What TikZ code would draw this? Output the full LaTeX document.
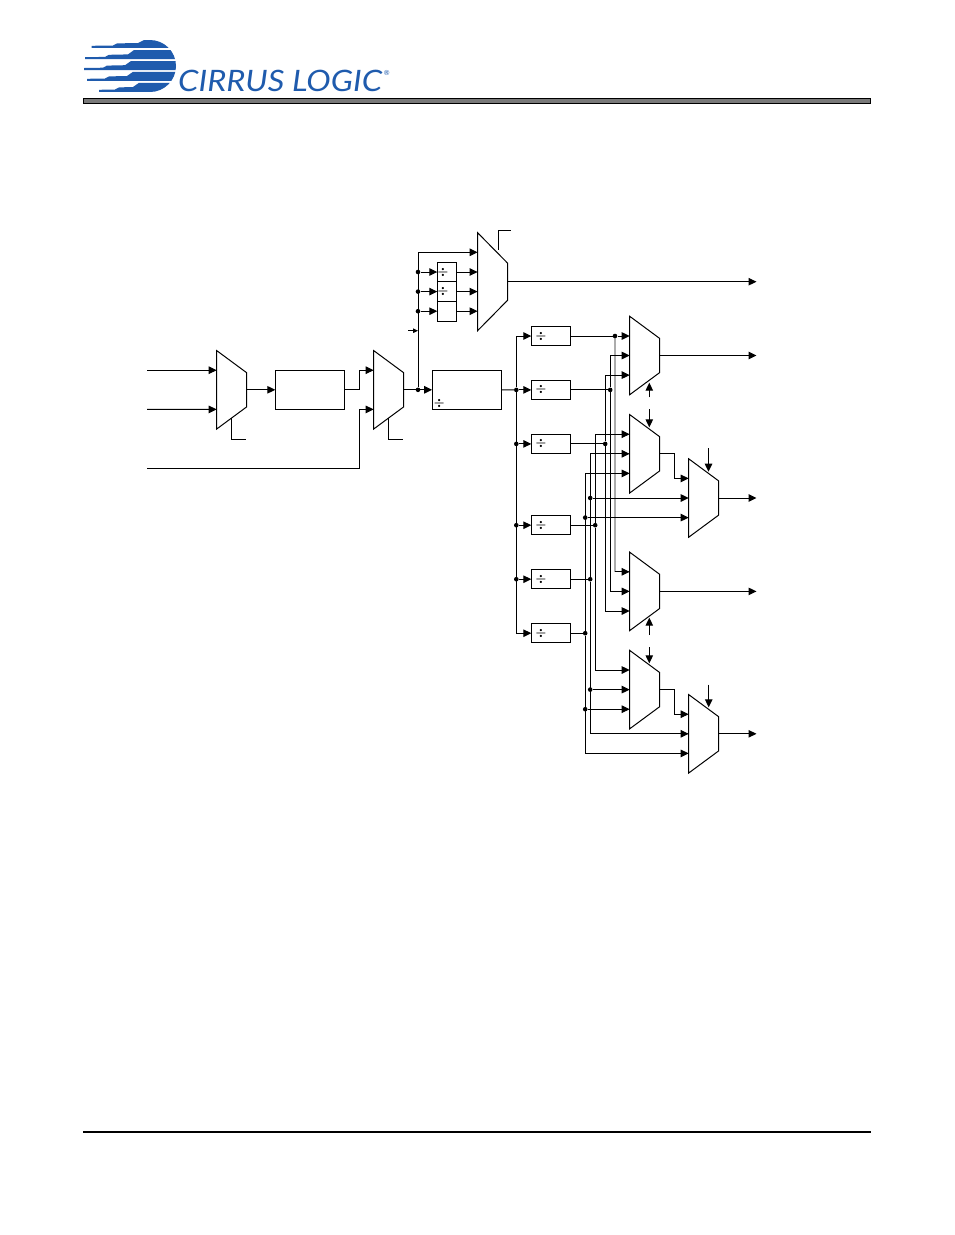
\documentclass[tikz,border=0pt]{standalone}
\usepackage{fontspec}
\setsansfont{Lato}
\usetikzlibrary{arrows.meta,shapes.geometric}
\definecolor{logoblue}{HTML}{1F5BAD}
\tikzset{
    wire/.style={line width=1pt},
    greywire/.style={line width=1.7pt,gray!65},
    arr/.style={wire,-{Triangle[length=8pt,width=7.5pt]}},
    arrsmall/.style={wire,-{Triangle[length=5pt,width=4.5pt]}},
    dot/.style={circle,fill=black,inner sep=0pt,minimum size=4.6pt},
    divmark/.style={inner sep=0pt,font=\fontsize{12}{12}\selectfont\boldmath},
    box/.style={draw,wire,inner sep=0pt,outer sep=0pt,minimum width=69.4pt,minimum height=39pt},
    divbox/.style={draw,wire,inner sep=0pt,outer sep=0pt,minimum width=39.4pt,minimum height=19.4pt,
        label={[xshift=-10pt,divmark]center:$\div$}},
    smallbox/.style={draw,wire,inner sep=0pt,outer sep=0pt,minimum width=19.4pt,minimum height=19.6pt},
    mux/.style={draw,wire,trapezium,shape border rotate=270,trapezium stretches=true,
        trapezium left angle=57,trapezium right angle=57,inner sep=1pt,outer sep=0pt,
        minimum height=30pt,minimum width=78.4pt},
}
\begin{document}
\begin{tikzpicture}[x=1pt,y=-1pt]
    \useasboundingbox (0,0) rectangle (954,1235);
    % logo
    \begin{scope}
        \clip (80,38) -- (150,38) -- (150,40) arc[start angle=90,end angle=-90,radius=26pt] -- (150,94) -- (80,94) -- cycle;
        \foreach \top/\bot/\tail/\mid/\full in {40/47.8/91.5/113/138,50/59.2/85/105/128,61/70/84/103/125,71.8/80.8/87/105/127,82.8/91.8/99/115/133}{
            \fill[logoblue] (\tail,\bot) -- (\tail,\bot-2) -- (\mid,\bot-2.3) -- (\mid+4,\bot-4.4) -- (\full,\bot-4.8)
                -- (\full+6,\top) -- (180,\top) -- (180,\bot) -- cycle;
        }
    \end{scope}
    \node[text=logoblue,inner sep=0pt,anchor=base west,xscale=1.108,transform shape,font=\sffamily\itshape\fontsize{29.5}{30}\selectfont] (logotext) at (178,91) {CIRRUS LOGIC};
    \node[text=logoblue,inner sep=0pt,font=\sffamily\fontsize{7}{7}\selectfont] (logoreg) at (386.8,73) {\textregistered};
    \draw[line width=1.3pt,fill=gray!95!black] (83.5,98.6) rectangle (870.5,103.6);
    \coordinate (footl) at (83,1132);
    \coordinate (footr) at (871,1132);
    \draw[line width=1.8pt] (footl) -- (footr);

    % nodes
    \node[mux] (muxi) at (231.7,389.8) {};
    \node[mux] (muxp) at (388.7,389.8) {};
    \node[mux] (muxa) at (644.7,355.5) {};
    \node[mux] (muxb) at (644.7,453.8) {};
    \node[mux] (muxc) at (644.7,591.4) {};
    \node[mux] (muxd) at (644.7,689.6) {};
    \node[mux] (muxe) at (703.7,498) {};
    \node[mux] (muxf) at (703.7,733.8) {};
    \node[mux,minimum width=98pt,trapezium left angle=50.6,trapezium right angle=50.6] (muxt) at (492.6,281.7) {};
    \node[box] (pll) at (310,389.8) {};
    \node[box] (fdiv) at (466.8,389.8) {};
    \node[divmark] (fdivmark) at (439.3,403.3) {$\div$};
    \foreach \n/\y in {a/336,b/389.9,c/443.9,d/525.2,e/579.2,f/633.2}{
        \node[divbox] (div\n) at (551,\y) {};
    }
    \node[smallbox,label={[xshift=-4pt,divmark]center:$\div$}] (rdiva) at (447,272) {};
    \node[smallbox,label={[xshift=-4pt,divmark]center:$\div$}] (rdivb) at (447,291.6) {};
    \node[smallbox] (rdivc) at (447,311.2) {};

    % input positions of the muxes
    \foreach \m in {muxi,muxp,muxa,muxb,muxc,muxd,muxe,muxf}{
        \coordinate (\m-1) at ([yshift=19.6pt]\m.west);
        \coordinate (\m-3) at ([yshift=-19.6pt]\m.west);
    }
    \coordinate (muxt-1) at ([yshift=29.4pt]muxt.west);

    % left part
    \coordinate (ina) at (147,370.2);
    \coordinate (inb) at (147,409.4);
    \coordinate (inc) at (147,468);
    \coordinate (xmux) at (359.7,0);
    \coordinate (seli) at (246,439.3);
    \coordinate (selp) at (403,439.3);
    \draw[arr] (ina) -- (muxi-1);
    \draw[arr] (inb) -- (muxi-3);
    \draw[wire] (muxi.south) |- (seli);
    \draw[wire] (muxp.south) |- (selp);
    \draw[arr] (muxi.east) -- (pll.west);
    \draw[arr] (pll.east) -- (pll.east -| xmux) -- (xmux |- muxp-1) -- (muxp-1);
    \draw[arr] (inc) -- (inc -| xmux) -- (xmux |- muxp-3) -- (muxp-3);
    \node[dot] (jclk) at (418,389.8) {};
    \draw[arr] (muxp.east) -- (fdiv.west);

    % top mux
    \draw[arr] (jclk) |- (muxt-1);
    \node[dot] (jra) at (rdiva.west -| jclk) {};
    \node[dot] (jrb) at (rdivb.west -| jclk) {};
    \node[dot] (jrc) at (rdivc.west -| jclk) {};
    \draw[arr] (jra) -- (rdiva.west);
    \draw[arr] (jrb) -- (rdivb.west);
    \draw[arr] (jrc) -- (rdivc.west);
    \draw[arr] (rdiva.east) -- (rdiva.east -| muxt.west);
    \draw[arr] (rdivb.east) -- (rdivb.east -| muxt.west);
    \draw[arr] (rdivc.east) -- (rdivc.east -| muxt.west);
    \coordinate (clkin) at (408,330.7);
    \draw[arrsmall] (clkin) -- (clkin -| jclk);
    \coordinate (selta) at (498.3,249.6);
    \coordinate (seltb) at (511,230);
    \draw[wire] (selta) |- (seltb);
    \coordinate (xout) at (756.5,0);
    \draw[arr] (muxt.east) -- (muxt.east -| xout);

    % divider bus
    \coordinate (xbus) at (516.3,0);
    \node[dot] (jb) at (divb.west -| xbus) {};
    \node[dot] (jc) at (divc.west -| xbus) {};
    \node[dot] (jd) at (divd.west -| xbus) {};
    \node[dot] (je) at (dive.west -| xbus) {};
    \draw[wire] (fdiv.east) -- (jb);
    \draw[arr] (jb) |- (diva.west);
    \draw[arr] (jb) |- (divf.west);
    \foreach \n in {b,c,d,e}{
        \draw[arr] (j\n) -- (div\n.west);
    }

    % buses from the dividers to the muxes
    \coordinate (xbua) at (615,0);
    \coordinate (bend) at (xbua |- muxc-1);
    \draw[greywire] (diva.east -| xbua) -- (bend);
    \foreach \n/\x in {a/615,b/610.2,c/605.2,d/595.2,e/590.2,f/585.2}{
        \coordinate (xbu\n) at (\x,0);
        \node[dot] (bu\n) at (div\n.east -| xbu\n) {};
        \draw[wire] (div\n.east) -- (bu\n);
    }
    \draw[arr] (bua) -- (bua -| muxa.west);
    \draw[arr] (bend) -- (muxc-1);
    \draw[arr] (bub) |- (muxa.west);
    \draw[arr] (bub) |- (muxc.west);
    \draw[arr] (buc) |- (muxa-3);
    \draw[arr] (buc) |- (muxc-3);
    \draw[arr] (bud) |- (muxb-1);
    \draw[arr] (bud) |- (muxd-1);
    \draw[arr] (bue) |- (muxb.west);
    \draw[arr] (bue) |- (muxf.west);
    \draw[arr] (buf) |- (muxb-3);
    \draw[arr] (buf) |- (muxf-3);
    \node[dot] (tee) at (muxe.west -| bue) {};
    \node[dot] (tef) at (muxe-3 -| buf) {};
    \node[dot] (tde) at (muxd.west -| bue) {};
    \node[dot] (tdf) at (muxd-3 -| buf) {};
    \draw[arr] (tee) -- (muxe.west);
    \draw[arr] (tef) -- (muxe-3);
    \draw[arr] (tde) -- (muxd.west);
    \draw[arr] (tdf) -- (muxd-3);

    % outputs
    \coordinate (xmerge) at (674.3,0);
    \draw[arr] (muxb.east) -- (muxb.east -| xmerge) -- (xmerge |- muxe-1) -- (muxe-1);
    \draw[arr] (muxd.east) -- (muxd.east -| xmerge) -- (xmerge |- muxf-1) -- (muxf-1);
    \foreach \m in {muxa,muxc,muxe,muxf}{
        \draw[arr] (\m.east) -- (\m.east -| xout);
    }

    % select arrows
    \foreach \n/\x/\ya/\yb in {a/649.3/397.3/382.7,b/649.3/409.3/427.3,c/649.3/635/617.7,d/649.3/647/663.3,e/708.5/448.3/471.7,f/708.7/684.7/707.3}{
        \coordinate (sel\n) at (\x,\ya);
        \coordinate (tip\n) at (\x,\yb);
        \draw[arr] (sel\n) -- (tip\n);
    }
\end{tikzpicture}
\end{document}
